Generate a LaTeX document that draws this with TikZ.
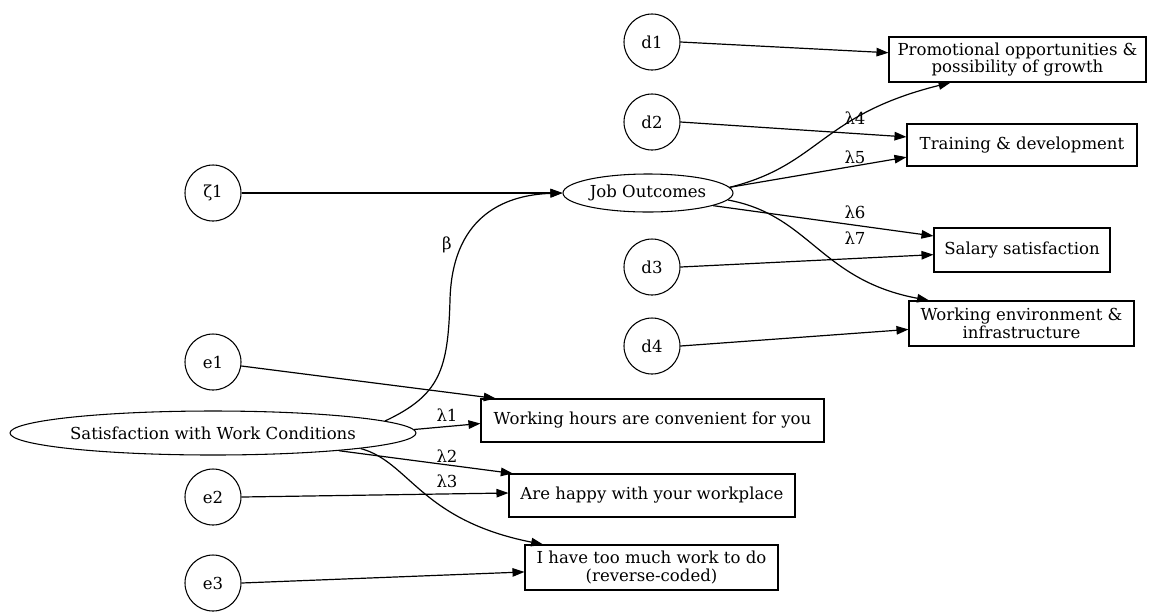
\documentclass[tikz,border=0pt]{standalone}
\usepackage{fontspec}
\setmainfont{DejaVu Serif}
\usetikzlibrary{arrows.meta,shapes.geometric}
\begin{document}
\begin{tikzpicture}[x=0.75pt,y=-0.75pt,
  every node/.style={font=\fontsize{12.4}{13.2}\selectfont},
  lat/.style={draw,circle,minimum size=42pt,inner sep=0pt,line width=0.8pt},
  fac/.style={draw,ellipse,inner sep=0pt,line width=0.8pt},
  obs/.style={draw,rectangle,inner sep=0pt,align=center,line width=0.8pt},
  arr/.style={-{Triangle[length=9pt,width=6.4pt]},line width=0.9pt},
  lab/.style={inner sep=0pt}]
\useasboundingbox (0,0) rectangle (1153,612);
% latent error nodes
\node[lat] (z1) at (213,193) {ζ1};
\node[lat] (d1) at (652,42) {d1};
\node[lat] (d2) at (652,122) {d2};
\node[lat] (d3) at (652,267) {d3};
\node[lat] (d4) at (652,346) {d4};
\node[lat] (e1) at (213,362) {e1};
\node[lat] (e2) at (213,497) {e2};
\node[lat] (e3) at (213,583) {e3};
% factors
\node[fac,minimum width=127.5pt,minimum height=28.5pt] (job) at (648,193) {Job Outcomes};
\node[fac,minimum width=304.5pt,minimum height=33pt] (sat) at (213,433) {Satisfaction with Work Conditions};
% observed
\node[obs,minimum width=192.75pt,minimum height=33.75pt] (prom) at (1017.5,59.5) {Promotional opportunities \&\\possibility of growth};
\node[obs,minimum width=172.5pt,minimum height=31.5pt] (train) at (1022,145) {Training \& development};
\node[obs,minimum width=132pt,minimum height=33pt] (sal) at (1022,250) {Salary satisfaction};
\node[obs,minimum width=168.75pt,minimum height=33.75pt] (env) at (1021.5,323.5) {Working environment \&\\infrastructure};
\node[obs,minimum width=257.25pt,minimum height=32.25pt] (wh) at (652.5,420.5) {Working hours are convenient for you};
\node[obs,minimum width=214.5pt,minimum height=32.25pt] (ah) at (652,495.5) {Are happy with your workplace};
\node[obs,minimum width=189.75pt,minimum height=33.75pt] (ih) at (651.5,567.5) {I have too much work to do\\(reverse-coded)};
% error arrows
\draw[arr] (z1.east) -- (job.west);
\draw[arr] (d1.east) -- (prom.177.8);
\draw[arr] (d2.east) -- (train.176.5);
\draw[arr] (d3.east) -- (sal.183.2);
\draw[arr] (d4.east) -- (env.183.6);
\draw[arr] (e1.-8) -- (wh.172.6);
\draw[arr] (e2.east) -- (ah.179);
\draw[arr] (e3.east) -- (ih.182.7);
% structural
\draw[arr] (sat.4.4) .. controls (440,395) and (448,370) .. (450,300) .. controls (452,220) and (500,195) .. (job.west);
\node[lab] (beta) at (447,245) {β};
% loadings sat
\draw[arr] (sat.1.4) -- (wh.181.7);
\draw[arr] (sat.352) -- (ah.171.5);
\draw[arr] (sat.354.7) .. controls (410,462) and (420,520) .. (ih.168);
\node[lab] (l1) at (447,415) {λ1};
\node[lab] (l2) at (447,456) {λ2};
\node[lab] (l3) at (447,481) {λ3};
% loadings job
\draw[arr] (job.4.9) .. controls (820,165) and (820,115) .. (prom.199.4);
\draw[arr] (job.4.9) -- (train.186.5);
\draw[arr] (job.349.8) -- (sal.171);
\draw[arr] (job.355.3) .. controls (810,215) and (820,280) .. (env.166.4);
\node[lab] (l4) at (855,118) {λ4};
\node[lab] (l5) at (855,157) {λ5};
\node[lab] (l6) at (855,212) {λ6};
\node[lab] (l7) at (855,238) {λ7};
\end{tikzpicture}
\end{document}
